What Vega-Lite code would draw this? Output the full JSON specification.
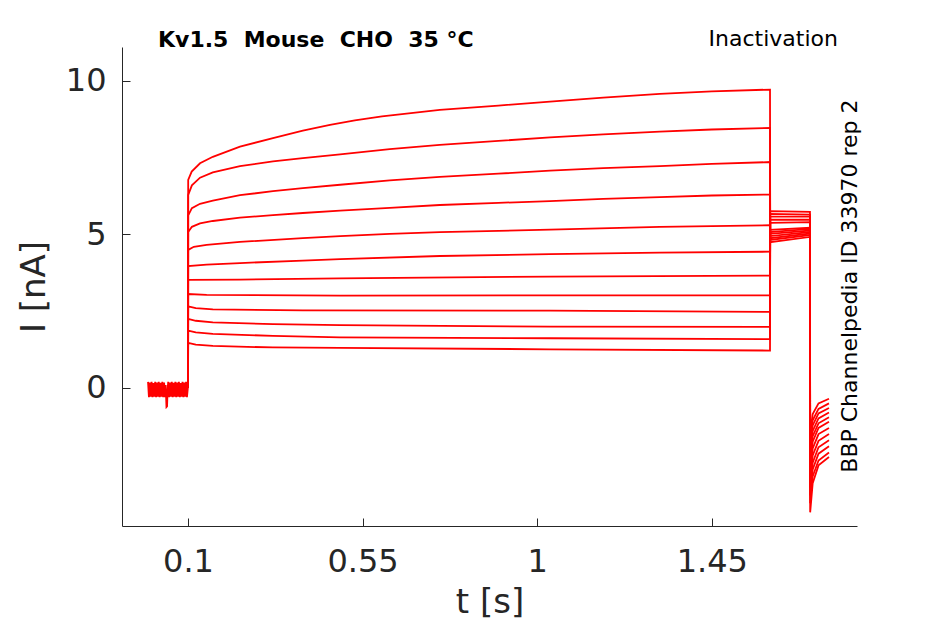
{
  "$schema": "https://vega.github.io/schema/vega-lite/v6.json",
  "width": 735,
  "height": 479,
  "autosize": {"type": "none"},
  "padding": {"left": 122, "top": 47, "right": 88, "bottom": 98},
  "background": "white",
  "config": {
    "view": {"stroke": null},
    "font": "DejaVu Sans",
    "axis": {
      "grid": false,
      "domainColor": "#262626",
      "tickColor": "#262626",
      "labelColor": "#262626",
      "titleColor": "#262626",
      "labelFont": "DejaVu Sans",
      "titleFont": "DejaVu Sans",
      "labelFontSize": 32,
      "titleFontSize": 34,
      "titleFontWeight": "normal",
      "tickSize": -8,
      "domainWidth": 1,
      "tickWidth": 1
    }
  },
  "datasets": {
    "traces": [
      {"trace": 1, "t": 0.1, "i": 0}, {"trace": 1, "t": 0.1005, "i": 6.78}, {"trace": 1, "t": 0.1095, "i": 7.05}, {"trace": 1, "t": 0.131, "i": 7.32}, {"trace": 1, "t": 0.164, "i": 7.53}, {"trace": 1, "t": 0.234, "i": 7.86}, {"trace": 1, "t": 0.319, "i": 8.14}, {"trace": 1, "t": 0.396, "i": 8.38}, {"trace": 1, "t": 0.466, "i": 8.57}, {"trace": 1, "t": 0.53, "i": 8.72}, {"trace": 1, "t": 0.6, "i": 8.85}, {"trace": 1, "t": 0.749, "i": 9.06}, {"trace": 1, "t": 0.9, "i": 9.2}, {"trace": 1, "t": 1.033, "i": 9.33}, {"trace": 1, "t": 1.17, "i": 9.46}, {"trace": 1, "t": 1.316, "i": 9.58}, {"trace": 1, "t": 1.45, "i": 9.66}, {"trace": 1, "t": 1.6, "i": 9.72}, {"trace": 1, "t": 1.6005, "i": 4.75}, {"trace": 1, "t": 1.703, "i": 4.92}, {"trace": 1, "t": 1.7035, "i": -1.5}, {"trace": 1, "t": 1.71, "i": -0.85}, {"trace": 1, "t": 1.725, "i": -0.5}, {"trace": 1, "t": 1.752, "i": -0.35},
      {"trace": 2, "t": 0.1, "i": 0}, {"trace": 2, "t": 0.1005, "i": 6.29}, {"trace": 2, "t": 0.11, "i": 6.6}, {"trace": 2, "t": 0.131, "i": 6.85}, {"trace": 2, "t": 0.164, "i": 7.02}, {"trace": 2, "t": 0.234, "i": 7.23}, {"trace": 2, "t": 0.319, "i": 7.38}, {"trace": 2, "t": 0.396, "i": 7.49}, {"trace": 2, "t": 0.492, "i": 7.61}, {"trace": 2, "t": 0.62, "i": 7.78}, {"trace": 2, "t": 0.749, "i": 7.92}, {"trace": 2, "t": 0.9, "i": 8.05}, {"trace": 2, "t": 1.033, "i": 8.16}, {"trace": 2, "t": 1.17, "i": 8.26}, {"trace": 2, "t": 1.316, "i": 8.35}, {"trace": 2, "t": 1.45, "i": 8.42}, {"trace": 2, "t": 1.6, "i": 8.47}, {"trace": 2, "t": 1.6005, "i": 4.82}, {"trace": 2, "t": 1.703, "i": 4.98}, {"trace": 2, "t": 1.7035, "i": -1.7}, {"trace": 2, "t": 1.71, "i": -1.05}, {"trace": 2, "t": 1.725, "i": -0.68}, {"trace": 2, "t": 1.752, "i": -0.5},
      {"trace": 3, "t": 0.1, "i": 0}, {"trace": 3, "t": 0.1005, "i": 5.62}, {"trace": 3, "t": 0.11, "i": 5.86}, {"trace": 3, "t": 0.131, "i": 6.0}, {"trace": 3, "t": 0.164, "i": 6.1}, {"trace": 3, "t": 0.234, "i": 6.28}, {"trace": 3, "t": 0.319, "i": 6.41}, {"trace": 3, "t": 0.396, "i": 6.51}, {"trace": 3, "t": 0.492, "i": 6.62}, {"trace": 3, "t": 0.62, "i": 6.76}, {"trace": 3, "t": 0.749, "i": 6.88}, {"trace": 3, "t": 0.9, "i": 6.98}, {"trace": 3, "t": 1.033, "i": 7.08}, {"trace": 3, "t": 1.17, "i": 7.16}, {"trace": 3, "t": 1.316, "i": 7.23}, {"trace": 3, "t": 1.45, "i": 7.3}, {"trace": 3, "t": 1.6, "i": 7.36}, {"trace": 3, "t": 1.6005, "i": 4.88}, {"trace": 3, "t": 1.703, "i": 5.03}, {"trace": 3, "t": 1.7035, "i": -1.9}, {"trace": 3, "t": 1.71, "i": -1.22}, {"trace": 3, "t": 1.725, "i": -0.83}, {"trace": 3, "t": 1.752, "i": -0.65},
      {"trace": 4, "t": 0.1, "i": 0}, {"trace": 4, "t": 0.1005, "i": 5.08}, {"trace": 4, "t": 0.11, "i": 5.25}, {"trace": 4, "t": 0.131, "i": 5.36}, {"trace": 4, "t": 0.164, "i": 5.44}, {"trace": 4, "t": 0.234, "i": 5.55}, {"trace": 4, "t": 0.319, "i": 5.63}, {"trace": 4, "t": 0.396, "i": 5.7}, {"trace": 4, "t": 0.492, "i": 5.78}, {"trace": 4, "t": 0.62, "i": 5.87}, {"trace": 4, "t": 0.749, "i": 5.96}, {"trace": 4, "t": 0.9, "i": 6.03}, {"trace": 4, "t": 1.033, "i": 6.09}, {"trace": 4, "t": 1.17, "i": 6.16}, {"trace": 4, "t": 1.316, "i": 6.22}, {"trace": 4, "t": 1.45, "i": 6.27}, {"trace": 4, "t": 1.6, "i": 6.3}, {"trace": 4, "t": 1.6005, "i": 4.95}, {"trace": 4, "t": 1.703, "i": 5.08}, {"trace": 4, "t": 1.7035, "i": -2.1}, {"trace": 4, "t": 1.71, "i": -1.4}, {"trace": 4, "t": 1.725, "i": -0.99}, {"trace": 4, "t": 1.752, "i": -0.8},
      {"trace": 5, "t": 0.1, "i": 0}, {"trace": 5, "t": 0.1005, "i": 4.5}, {"trace": 5, "t": 0.115, "i": 4.6}, {"trace": 5, "t": 0.148, "i": 4.66}, {"trace": 5, "t": 0.234, "i": 4.76}, {"trace": 5, "t": 0.396, "i": 4.88}, {"trace": 5, "t": 0.492, "i": 4.95}, {"trace": 5, "t": 0.62, "i": 5.02}, {"trace": 5, "t": 0.749, "i": 5.08}, {"trace": 5, "t": 0.9, "i": 5.12}, {"trace": 5, "t": 1.033, "i": 5.16}, {"trace": 5, "t": 1.316, "i": 5.25}, {"trace": 5, "t": 1.6, "i": 5.3}, {"trace": 5, "t": 1.6005, "i": 5.02}, {"trace": 5, "t": 1.703, "i": 5.13}, {"trace": 5, "t": 1.7035, "i": -2.3}, {"trace": 5, "t": 1.71, "i": -1.57}, {"trace": 5, "t": 1.725, "i": -1.15}, {"trace": 5, "t": 1.752, "i": -0.95},
      {"trace": 6, "t": 0.1, "i": 0}, {"trace": 6, "t": 0.1005, "i": 3.97}, {"trace": 6, "t": 0.148, "i": 4.02}, {"trace": 6, "t": 0.234, "i": 4.07}, {"trace": 6, "t": 0.396, "i": 4.15}, {"trace": 6, "t": 0.492, "i": 4.2}, {"trace": 6, "t": 0.749, "i": 4.3}, {"trace": 6, "t": 1.033, "i": 4.36}, {"trace": 6, "t": 1.316, "i": 4.41}, {"trace": 6, "t": 1.6, "i": 4.44}, {"trace": 6, "t": 1.6005, "i": 5.08}, {"trace": 6, "t": 1.703, "i": 5.18}, {"trace": 6, "t": 1.7035, "i": -2.5}, {"trace": 6, "t": 1.71, "i": -1.75}, {"trace": 6, "t": 1.725, "i": -1.3}, {"trace": 6, "t": 1.752, "i": -1.1},
      {"trace": 7, "t": 0.1, "i": 0}, {"trace": 7, "t": 0.1005, "i": 3.52}, {"trace": 7, "t": 0.234, "i": 3.53}, {"trace": 7, "t": 0.492, "i": 3.57}, {"trace": 7, "t": 1.033, "i": 3.63}, {"trace": 7, "t": 1.6, "i": 3.66}, {"trace": 7, "t": 1.6005, "i": 5.15}, {"trace": 7, "t": 1.703, "i": 5.22}, {"trace": 7, "t": 1.7035, "i": -2.75}, {"trace": 7, "t": 1.71, "i": -1.97}, {"trace": 7, "t": 1.725, "i": -1.5}, {"trace": 7, "t": 1.752, "i": -1.3},
      {"trace": 8, "t": 0.1, "i": 0}, {"trace": 8, "t": 0.1005, "i": 3.06}, {"trace": 8, "t": 0.148, "i": 3.03}, {"trace": 8, "t": 0.492, "i": 3.01}, {"trace": 8, "t": 1.033, "i": 3.02}, {"trace": 8, "t": 1.6, "i": 3.02}, {"trace": 8, "t": 1.6005, "i": 5.38}, {"trace": 8, "t": 1.703, "i": 5.4}, {"trace": 8, "t": 1.7035, "i": -3.0}, {"trace": 8, "t": 1.71, "i": -2.2}, {"trace": 8, "t": 1.725, "i": -1.72}, {"trace": 8, "t": 1.752, "i": -1.5},
      {"trace": 9, "t": 0.1, "i": 0}, {"trace": 9, "t": 0.1005, "i": 2.66}, {"trace": 9, "t": 0.12, "i": 2.6}, {"trace": 9, "t": 0.164, "i": 2.56}, {"trace": 9, "t": 0.396, "i": 2.53}, {"trace": 9, "t": 1.033, "i": 2.52}, {"trace": 9, "t": 1.6, "i": 2.48}, {"trace": 9, "t": 1.6005, "i": 5.48}, {"trace": 9, "t": 1.703, "i": 5.48}, {"trace": 9, "t": 1.7035, "i": -3.25}, {"trace": 9, "t": 1.71, "i": -2.43}, {"trace": 9, "t": 1.725, "i": -1.93}, {"trace": 9, "t": 1.752, "i": -1.7},
      {"trace": 10, "t": 0.1, "i": 0}, {"trace": 10, "t": 0.1005, "i": 2.25}, {"trace": 10, "t": 0.12, "i": 2.19}, {"trace": 10, "t": 0.164, "i": 2.14}, {"trace": 10, "t": 0.319, "i": 2.08}, {"trace": 10, "t": 0.492, "i": 2.05}, {"trace": 10, "t": 1.033, "i": 2.0}, {"trace": 10, "t": 1.6, "i": 1.99}, {"trace": 10, "t": 1.6005, "i": 5.58}, {"trace": 10, "t": 1.703, "i": 5.58}, {"trace": 10, "t": 1.7035, "i": -3.5}, {"trace": 10, "t": 1.71, "i": -2.65}, {"trace": 10, "t": 1.725, "i": -2.14}, {"trace": 10, "t": 1.752, "i": -1.9},
      {"trace": 11, "t": 0.1, "i": 0}, {"trace": 11, "t": 0.1005, "i": 1.87}, {"trace": 11, "t": 0.12, "i": 1.81}, {"trace": 11, "t": 0.164, "i": 1.76}, {"trace": 11, "t": 0.319, "i": 1.7}, {"trace": 11, "t": 0.492, "i": 1.65}, {"trace": 11, "t": 1.033, "i": 1.62}, {"trace": 11, "t": 1.6, "i": 1.59}, {"trace": 11, "t": 1.6005, "i": 5.67}, {"trace": 11, "t": 1.703, "i": 5.65}, {"trace": 11, "t": 1.7035, "i": -3.75}, {"trace": 11, "t": 1.71, "i": -2.88}, {"trace": 11, "t": 1.725, "i": -2.36}, {"trace": 11, "t": 1.752, "i": -2.1},
      {"trace": 12, "t": 0.1, "i": 0}, {"trace": 12, "t": 0.1005, "i": 1.47}, {"trace": 12, "t": 0.12, "i": 1.41}, {"trace": 12, "t": 0.164, "i": 1.37}, {"trace": 12, "t": 0.319, "i": 1.32}, {"trace": 12, "t": 0.492, "i": 1.31}, {"trace": 12, "t": 1.033, "i": 1.26}, {"trace": 12, "t": 1.6, "i": 1.22}, {"trace": 12, "t": 1.6005, "i": 5.76}, {"trace": 12, "t": 1.703, "i": 5.74}, {"trace": 12, "t": 1.7035, "i": -4.05}, {"trace": 12, "t": 1.71, "i": -3.1}, {"trace": 12, "t": 1.725, "i": -2.52}, {"trace": 12, "t": 1.752, "i": -2.25}
    ],
    "base": [
      {"t": -0.003, "i": 0.2}, {"t": -0.0007, "i": -0.3}, {"t": 0.0016, "i": 0.18}, {"t": 0.0039, "i": -0.28}, {"t": 0.0062, "i": 0.2}, {"t": 0.0085, "i": -0.3}, {"t": 0.0108, "i": 0.16}, {"t": 0.0131, "i": -0.28}, {"t": 0.0154, "i": 0.2}, {"t": 0.0177, "i": -0.3}, {"t": 0.02, "i": 0.18}, {"t": 0.0223, "i": -0.28}, {"t": 0.0246, "i": 0.2}, {"t": 0.0269, "i": -0.3}, {"t": 0.0292, "i": 0.17}, {"t": 0.0315, "i": -0.28}, {"t": 0.0338, "i": 0.2}, {"t": 0.0361, "i": -0.3}, {"t": 0.0384, "i": 0.18}, {"t": 0.0407, "i": -0.3}, {"t": 0.0425, "i": 0.1}, {"t": 0.0445, "i": -0.62}, {"t": 0.046, "i": -0.6}, {"t": 0.0475, "i": -0.05}, {"t": 0.049, "i": 0.2}, {"t": 0.0513, "i": -0.3}, {"t": 0.0536, "i": 0.18}, {"t": 0.0559, "i": -0.28}, {"t": 0.0582, "i": 0.2}, {"t": 0.0605, "i": -0.3}, {"t": 0.0628, "i": 0.17}, {"t": 0.0651, "i": -0.28}, {"t": 0.0674, "i": 0.2}, {"t": 0.0697, "i": -0.3}, {"t": 0.072, "i": 0.18}, {"t": 0.0743, "i": -0.28}, {"t": 0.0766, "i": 0.2}, {"t": 0.0789, "i": -0.3}, {"t": 0.0812, "i": 0.16}, {"t": 0.0835, "i": -0.28}, {"t": 0.0858, "i": 0.2}, {"t": 0.0881, "i": -0.3}, {"t": 0.0904, "i": 0.18}, {"t": 0.0927, "i": -0.28}, {"t": 0.095, "i": 0.2}, {"t": 0.0973, "i": -0.3}, {"t": 0.0996, "i": 0.0}
    ]
  },
  "layer": [
    {
      "data": {"name": "base"},
      "mark": {"type": "line", "color": "#ff0000", "strokeWidth": 1.8},
      "encoding": {
        "x": {
          "field": "t", "type": "quantitative", "title": "t [s]",
          "scale": {"domain": [-0.0701, 1.8242], "nice": false, "zero": false},
          "axis": {"values": [0.1, 0.55, 1, 1.45], "format": ".3~g", "labelPadding": 28, "titlePadding": 8, "labelFlush": false}
        },
        "y": {
          "field": "i", "type": "quantitative", "title": "I [nA]",
          "scale": {"domain": [-4.495, 11.107], "nice": false, "zero": false},
          "axis": {"values": [0, 5, 10], "format": ".3~g", "labelPadding": 24, "titlePadding": 14, "labelFlush": false}
        }
      }
    },
    {
      "data": {"name": "traces"},
      "mark": {"type": "line", "color": "#ff0000", "strokeWidth": 1.8},
      "encoding": {
        "x": {"field": "t", "type": "quantitative", "title": "t [s]"},
        "y": {"field": "i", "type": "quantitative", "title": "I [nA]"},
        "detail": {"field": "trace", "type": "nominal"}
      }
    },
    {
      "data": {"values": [{}]},
      "mark": {"type": "text", "text": "Kv1.5\u00a0 Mouse\u00a0 CHO\u00a0 35 °C", "align": "left", "baseline": "alphabetic", "fontSize": 22, "fontWeight": "bold", "color": "#000000"},
      "encoding": {"x": {"datum": 0.0227, "title": "t [s]"}, "y": {"datum": 11.12, "title": "I [nA]"}}
    },
    {
      "data": {"values": [{}]},
      "mark": {"type": "text", "text": "Inactivation", "align": "right", "baseline": "alphabetic", "fontSize": 22, "color": "#000000"},
      "encoding": {"x": {"datum": 1.775, "title": "t [s]"}, "y": {"datum": 11.14, "title": "I [nA]"}}
    },
    {
      "data": {"values": [{}]},
      "mark": {"type": "text", "text": "BBP Channelpedia ID 33970 rep 2", "align": "center", "baseline": "middle", "angle": 270, "fontSize": 22, "color": "#000000"},
      "encoding": {"x": {"datum": 1.806, "title": "t [s]"}, "y": {"datum": 3.32, "title": "I [nA]"}}
    }
  ]
}
